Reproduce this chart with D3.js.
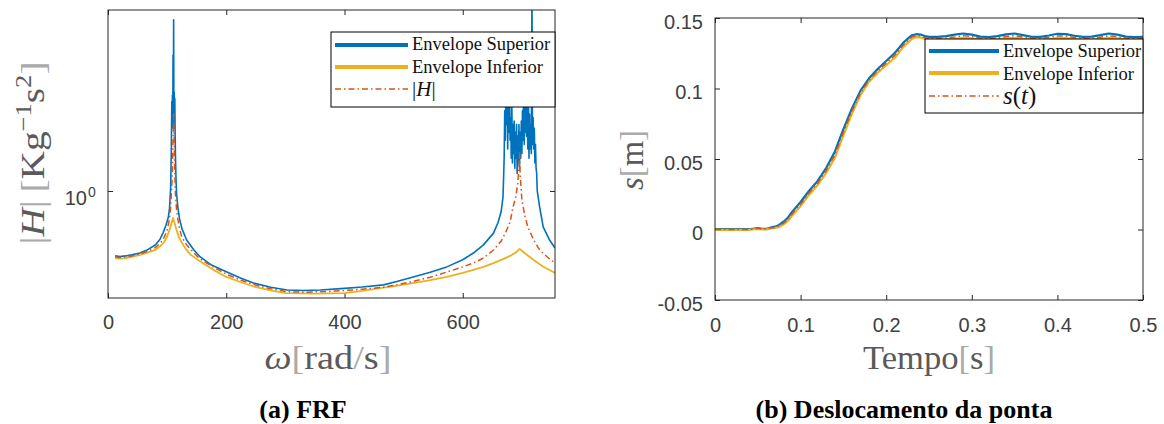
<!DOCTYPE html>
<html>
<head>
<meta charset="utf-8">
<script src="https://d3js.org/d3.v7.min.js"></script>
<style>
  body { margin: 0; background: #fff; }
  svg { display: block; }
  .tick text { font-family: "Liberation Sans", Arial, sans-serif; font-size: 20px; fill: #404040; }
  .tick line { stroke: #262626; }
</style>
</head>
<body>
<svg id="fig" width="1164" height="424"></svg>
<script>
// ---- (a) FRF : |H| vs omega ----
const omegaUpper = [12, 20, 30, 40, 54, 65, 80, 88, 93, 98, 102, 104, 106, 106.5, 107, 107.5, 108, 108.5, 109, 109.5,
  110, 110.5, 111, 111.5, 112, 112.5, 113, 113.5, 114, 115, 116, 118, 121, 125, 133, 145, 156, 175, 201, 225,
  246, 275, 303, 330, 359, 400, 430, 466, 490, 516, 545, 573, 600, 618, 635, 652, 660, 665, 668, 669,
  670, 671, 672, 673, 674, 675, 676, 677, 678, 679, 680, 681, 682, 683, 684, 685, 686, 687, 688, 689,
  690, 691, 692, 693, 694, 695, 696, 697, 698, 699, 700, 701, 702, 703, 704, 705, 706, 707, 708, 709,
  710, 711, 712, 713, 714, 715, 716, 717, 718, 719, 720, 721, 722, 723, 724, 725, 726, 730, 736, 746, 756];
const hUpper = [0.595, 0.592, 0.595, 0.600, 0.609, 0.622, 0.649, 0.68, 0.714, 0.76, 0.81, 0.87, 1.03, 1.2, 1.35, 1.7, 2.05, 1.65, 2.15, 1.7,
  2.96, 1.8, 3.93, 1.75, 2.2, 1.65, 2.1, 1.6, 1.35, 1.1, 0.98, 0.88, 0.8, 0.74, 0.676, 0.625, 0.59, 0.553, 0.523, 0.498,
  0.479, 0.463, 0.453, 0.451, 0.453, 0.459, 0.464, 0.472, 0.486, 0.503, 0.522, 0.545, 0.577, 0.609, 0.65, 0.714, 0.78, 0.85, 0.95, 1.1,
  1.3, 1.9, 1.5, 2.4, 1.7, 2.8, 1.4, 2.2, 1.6, 2.9, 1.5, 1.8, 1.3, 2.0, 1.25, 1.7, 1.35, 1.75, 1.2, 1.6,
  1.3, 1.7, 1.15, 1.55, 1.25, 1.7, 1.2, 1.6, 1.3, 1.75, 1.35, 1.9, 1.5, 2.3, 1.45, 2.1, 1.6, 2.6, 1.55, 2.0,
  1.4, 2.2, 1.3, 1.85, 1.4, 1.7, 1.35, 5.0, 1.45, 1.8, 1.4, 1.65, 1.25, 1.45, 1.2, 1.15, 1.0, 0.88, 0.75, 0.68, 0.634];

const omegaLower = [12, 20, 30, 40, 54, 65, 80, 90, 95, 100, 104, 107, 110, 113, 116, 120, 125, 132, 140, 160,
  180, 200, 225, 250, 275, 300, 350, 400, 430, 460, 490, 516, 545, 573, 600, 618, 635, 652, 668, 680,
  690, 696, 700, 710, 720, 735, 756];
const hLower = [0.585, 0.582, 0.585, 0.59, 0.60, 0.61, 0.624, 0.648, 0.665, 0.695, 0.732, 0.77, 0.806, 0.77, 0.732, 0.69, 0.66, 0.627, 0.60, 0.562,
  0.53, 0.503, 0.482, 0.464, 0.452, 0.442, 0.440, 0.442, 0.45, 0.46, 0.469, 0.479, 0.49, 0.503, 0.52, 0.532, 0.545, 0.562, 0.58, 0.595,
  0.612, 0.629, 0.62, 0.597, 0.576, 0.548, 0.519];

const omegaH = [12, 20, 30, 40, 54, 65, 80, 90, 95, 100, 104, 106, 108, 109, 110, 111, 112, 113, 114, 116,
  118, 121, 125, 133, 145, 156, 180, 201, 225, 250, 275, 303, 330, 359, 400, 430, 466, 490, 516, 545,
  573, 600, 618, 635, 652, 665, 672, 680, 685, 690, 693, 695, 696, 697, 700, 705, 710, 720, 730, 745, 756];
const hMag = [0.59, 0.587, 0.59, 0.595, 0.604, 0.615, 0.636, 0.665, 0.69, 0.73, 0.80, 0.88, 1.05, 1.2, 1.5, 1.85, 1.45, 1.15, 0.98, 0.86,
  0.8, 0.74, 0.69, 0.65, 0.61, 0.58, 0.542, 0.513, 0.49, 0.471, 0.458, 0.447, 0.445, 0.447, 0.451, 0.456, 0.463, 0.473, 0.485, 0.502,
  0.523, 0.545, 0.562, 0.585, 0.624, 0.67, 0.714, 0.78, 0.88, 0.96, 1.066, 1.2, 1.354, 1.15, 0.93, 0.82, 0.75, 0.675, 0.624, 0.585, 0.562];

const frfXTicks = [0, 200, 400, 600];
const frfYTicks = [1];

// ---- (b) Deslocamento da ponta : s vs t ----
const timeS = [0, 0.02, 0.04, 0.05, 0.055, 0.06, 0.065, 0.07, 0.075, 0.08, 0.085, 0.09, 0.1, 0.11, 0.12, 0.13, 0.14, 0.15, 0.16, 0.17,
  0.18, 0.19, 0.2, 0.21, 0.22, 0.23, 0.235, 0.24, 0.245, 0.25, 0.26, 0.27, 0.28, 0.29, 0.3, 0.31, 0.32, 0.33, 0.34, 0.35,
  0.36, 0.37, 0.38, 0.39, 0.4, 0.41, 0.42, 0.43, 0.44, 0.45, 0.46, 0.47, 0.48, 0.49, 0.5];
const sUpper = [0.0002, 0.0002, 0.0002, 0.001, 0.0004, 0.0005, 0.0013, 0.002, 0.0032, 0.0055, 0.0082, 0.0125, 0.0195, 0.0275, 0.0345, 0.0438, 0.0552, 0.0712, 0.0858, 0.0985,
  0.1072, 0.1138, 0.1195, 0.1252, 0.1325, 0.1378, 0.1385, 0.1383, 0.1372, 0.1366, 0.1366, 0.1372, 0.1382, 0.139, 0.1382, 0.1368, 0.1365, 0.1372, 0.1384, 0.139,
  0.1378, 0.1366, 0.1366, 0.1376, 0.1388, 0.1386, 0.1374, 0.1366, 0.1368, 0.1378, 0.139, 0.1382, 0.1368, 0.1365, 0.1366];
const sLower = [-0.0002, -0.0002, -0.0002, 0.0005, 0, 0.0001, 0.0007, 0.0011, 0.0019, 0.0036, 0.0059, 0.0097, 0.0166, 0.0247, 0.0316, 0.0403, 0.0508, 0.0668, 0.0822, 0.0955,
  0.1048, 0.1112, 0.1165, 0.1218, 0.1295, 0.1352, 0.1365, 0.1362, 0.1352, 0.1346, 0.1346, 0.1348, 0.1352, 0.136, 0.1356, 0.1348, 0.1346, 0.1348, 0.1355, 0.136,
  0.1352, 0.1346, 0.1346, 0.135, 0.1358, 0.1358, 0.135, 0.1346, 0.1346, 0.1352, 0.136, 0.1355, 0.1348, 0.1346, 0.1346];
const sMid = [0, 0, 0, 0.0008, 0.0002, 0.0003, 0.001, 0.0015, 0.0025, 0.0045, 0.007, 0.011, 0.018, 0.026, 0.033, 0.042, 0.053, 0.069, 0.084, 0.097,
  0.106, 0.1125, 0.118, 0.1235, 0.131, 0.1365, 0.1375, 0.1372, 0.1362, 0.1355, 0.1355, 0.1358, 0.1365, 0.1375, 0.1368, 0.1358, 0.1355, 0.1358, 0.1368, 0.1375,
  0.1365, 0.1356, 0.1355, 0.1362, 0.1372, 0.1372, 0.1362, 0.1355, 0.1356, 0.1364, 0.1374, 0.1368, 0.1358, 0.1355, 0.1356];

const dispXTicks = [0, 0.1, 0.2, 0.3, 0.4, 0.5];
const dispYTicks = [-0.05, 0, 0.05, 0.1, 0.15];

const colUpper = '#0072BD';
const colLower = '#EDB120';
const colMid = '#D95319';
const serif = '"Liberation Serif", "Times New Roman", serif';
const labelFill = '#5a5a5a';
const bracketFill = '#aaa';

const svg = d3.select('#fig');

// axes box with inward ticks on all four sides
function drawBox(id, x, y, xTicks, yTicks, fmtX, fmtY, padX, padY) {
  const [x0, x1] = x.range();
  const [y0, y1] = y.range(); // y0 bottom, y1 top
  const g = svg.append('g');

  g.append('g').attr('transform', `translate(0,${y0})`)
    .call(d3.axisBottom(x).tickValues(xTicks).tickSizeInner(-5).tickSizeOuter(0).tickPadding(padX).tickFormat(fmtX));
  g.append('g').attr('transform', `translate(0,${y1})`)
    .call(d3.axisTop(x).tickValues(xTicks).tickSizeInner(-5).tickSizeOuter(0).tickFormat(''));
  const left = g.append('g').attr('transform', `translate(${x0},0)`)
    .call(d3.axisLeft(y).tickValues(yTicks).tickSizeInner(-5).tickSizeOuter(0).tickPadding(padY).tickFormat(fmtY));
  left.selectAll('.tick text').attr('dy', '0.5em');
  g.append('g').attr('transform', `translate(${x1},0)`)
    .call(d3.axisRight(y).tickValues(yTicks).tickSizeInner(-5).tickSizeOuter(0).tickFormat(''));
  g.selectAll('.domain').remove();
  g.selectAll('.tick line').attr('stroke', '#262626');

  svg.append('clipPath').attr('id', id)
    .append('rect').attr('x', x0).attr('y', y1).attr('width', x1 - x0).attr('height', y0 - y1);
  return g;
}

function drawFrame(x, y) {
  const [x0, x1] = x.range();
  const [y0, y1] = y.range();
  svg.append('rect').attr('x', x0).attr('y', y1).attr('width', x1 - x0).attr('height', y0 - y1)
    .attr('fill', 'none').attr('stroke', '#262626').attr('stroke-width', 1);
}

function drawLine(clipId, xs, ys, x, y, color, width, dash) {
  const line = d3.line().x(d => x(d[0])).y(d => y(d[1]));
  svg.append('path')
    .datum(d3.zip(xs, ys))
    .attr('clip-path', `url(#${clipId})`)
    .attr('d', line)
    .attr('fill', 'none')
    .attr('stroke', color)
    .attr('stroke-width', width)
    .attr('stroke-linejoin', 'round')
    .attr('stroke-dasharray', dash || null);
}

function drawLegend(bx, by, bw, bh, rows) {
  const g = svg.append('g');
  g.append('rect').attr('x', bx).attr('y', by).attr('width', bw).attr('height', bh)
    .attr('fill', '#fff').attr('stroke', '#000').attr('stroke-width', 1);
  rows.forEach(r => {
    g.append('line').attr('x1', r.lx0).attr('x2', r.lx1).attr('y1', r.ly).attr('y2', r.ly)
      .attr('stroke', r.color).attr('stroke-width', r.width)
      .attr('stroke-dasharray', r.dash || null);
    const t = g.append('text').attr('x', r.tx).attr('y', r.ty)
      .attr('font-family', serif).attr('font-size', r.size).attr('fill', '#111');
    r.parts.forEach(p => t.append('tspan').attr('font-style', p.italic ? 'italic' : null).text(p.t));
  });
}

function axisLabel(transform, size, len, parts) {
  const t = svg.append('text').attr('transform', transform).attr('text-anchor', 'middle')
    .attr('font-family', serif).attr('font-size', size).attr('fill', labelFill)
    .attr('textLength', len).attr('lengthAdjust', 'spacingAndGlyphs');
  parts.forEach(p => {
    const s = t.append('tspan').text(p.t);
    if (p.italic) s.attr('font-style', 'italic');
    if (p.light) s.attr('fill', bracketFill);
    if (p.dy) s.attr('dy', p.dy);
    if (p.size) s.attr('font-size', p.size);
  });
  return t;
}

// ---------- (a) FRF ----------
const xF = d3.scaleLinear().domain([0, 756]).range([108, 555]);
const yF = d3.scaleLog().domain([0.425, 4.25]).range([298, 10]);

drawBox('clipF', xF, yF, frfXTicks, frfYTicks, d => String(d), () => '', 17, 12);
// 10^0 tick label
svg.append('text').attr('x', 87).attr('y', yF(1) + 14).attr('text-anchor', 'end')
  .attr('font-family', '"Liberation Sans", Arial, sans-serif').attr('font-size', 20).attr('fill', '#404040').text('10');
svg.append('text').attr('x', 88).attr('y', yF(1) + 6)
  .attr('font-family', '"Liberation Sans", Arial, sans-serif').attr('font-size', 14).attr('fill', '#404040').text('0');

drawLine('clipF', omegaUpper, hUpper, xF, yF, colUpper, 1.6);
drawLine('clipF', omegaLower, hLower, xF, yF, colLower, 1.8);
drawLine('clipF', omegaH, hMag, xF, yF, colMid, 1.5, '6,3,1.5,3');
drawFrame(xF, yF);

drawLegend(331, 32, 224, 75, [
  { lx0: 335, lx1: 408, ly: 45, color: colUpper, width: 4, tx: 412, ty: 50, size: 18.5, parts: [{ t: 'Envelope Superior' }] },
  { lx0: 335, lx1: 408, ly: 67, color: colLower, width: 4, tx: 412, ty: 73, size: 18.5, parts: [{ t: 'Envelope Inferior' }] },
  { lx0: 335, lx1: 408, ly: 89, color: colMid, width: 1.5, dash: '6,3,1.5,3', tx: 412, ty: 96, size: 21,
    parts: [{ t: '|' }, { t: 'H', italic: true }, { t: '|' }] }
]);

axisLabel('translate(328,369)', 33, 127, [
  { t: 'ω', italic: true }, { t: '[', light: true }, { t: 'rad' }, { t: '/', light: true }, { t: 's' }, { t: ']', light: true }
]);
axisLabel('translate(44,153) rotate(-90)', 34, 183, [
  { t: '|', light: true }, { t: 'H', italic: true }, { t: '|\u2009', light: true }, { t: '[', light: true }, { t: 'Kg' },
  { t: '−1', dy: -13, size: 23 }, { t: 's', dy: 13 }, { t: '2', dy: -13, size: 23 }, { t: ']', dy: 13, light: true }
]);

svg.append('text').attr('x', 303).attr('y', 418).attr('text-anchor', 'middle')
  .attr('font-family', serif).attr('font-size', 26).attr('font-weight', 'bold').attr('fill', '#000')
  .text('(a) FRF');

// ---------- (b) Deslocamento da ponta ----------
const xD = d3.scaleLinear().domain([0, 0.5]).range([715, 1143]);
const yD = d3.scaleLinear().domain([-0.05, 0.15]).range([300, 18]);
const fmtNum = d => String(+d.toFixed(2));

drawBox('clipD', xD, yD, dispXTicks, dispYTicks, fmtNum, fmtNum, 18, 12);

drawLine('clipD', timeS, sUpper, xD, yD, colUpper, 2.2);
drawLine('clipD', timeS, sLower, xD, yD, colLower, 2.2);
drawLine('clipD', timeS, sMid, xD, yD, colMid, 1.5, '6,3,1.5,3');
drawFrame(xD, yD);

drawLegend(925, 39, 218, 74, [
  { lx0: 929, lx1: 999, ly: 51, color: colUpper, width: 4, tx: 1003, ty: 57, size: 18.5, parts: [{ t: 'Envelope Superior' }] },
  { lx0: 929, lx1: 999, ly: 73, color: colLower, width: 4, tx: 1003, ty: 80, size: 18.5, parts: [{ t: 'Envelope Inferior' }] },
  { lx0: 929, lx1: 999, ly: 96, color: colMid, width: 1.5, dash: '6,3,1.5,3', tx: 1003, ty: 104, size: 25,
    parts: [{ t: 's', italic: true }, { t: '(' }, { t: 't', italic: true }, { t: ')' }] }
]);

axisLabel('translate(929,369)', 33, 132, [
  { t: 'Tempo' }, { t: '[', light: true }, { t: 's' }, { t: ']', light: true }
]);
axisLabel('translate(643,160) rotate(-90)', 33, 60, [
  { t: 's', italic: true }, { t: '[', light: true }, { t: 'm' }, { t: ']', light: true }
]);

svg.append('text').attr('x', 904).attr('y', 418).attr('text-anchor', 'middle')
  .attr('font-family', serif).attr('font-size', 26).attr('font-weight', 'bold').attr('fill', '#000')
  .text('(b) Deslocamento da ponta');
</script>
</body>
</html>
